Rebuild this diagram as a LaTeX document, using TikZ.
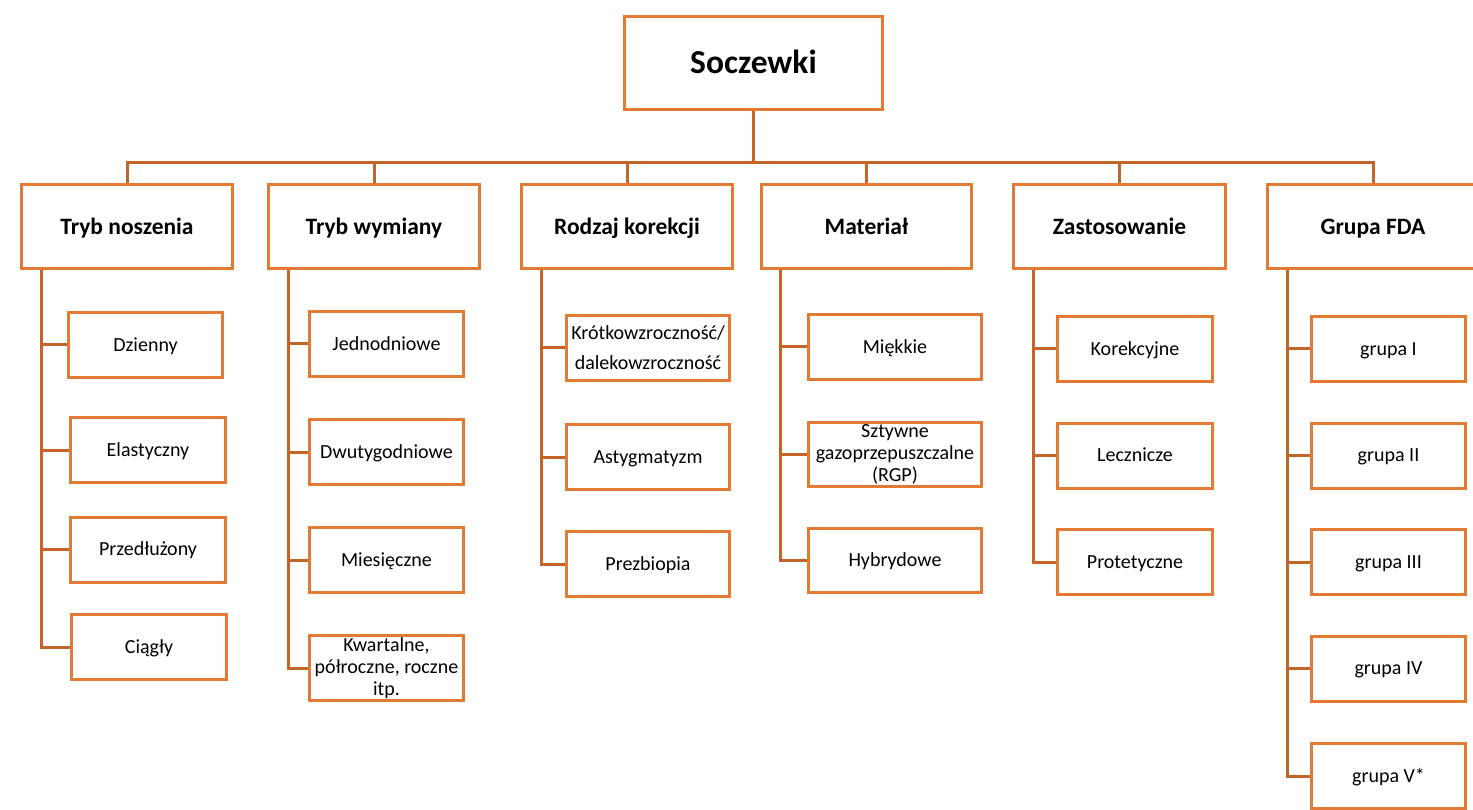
\documentclass[tikz,border=0pt]{standalone}
\usepackage{fontspec}
\setmainfont{Carlito}
\usetikzlibrary{calc}
\definecolor{boxor}{RGB}{226,122,52}
\definecolor{lineor}{RGB}{196,101,40}
\begin{document}
\begin{tikzpicture}[x=1pt,y=-1pt,
  base/.style={draw=boxor,line width=3pt,fill=white,inner sep=1pt,align=center,text=black},
  rootbox/.style={base,text height=30pt,text depth=8.4pt,minimum width=258pt,minimum height=93pt,font={\fontsize{33.5}{38}\selectfont\bfseries}},
  catbox/.style={base,text height=21pt,text depth=5.9pt,minimum width=211pt,minimum height=84pt,font={\fontsize{23.5}{28}\selectfont\bfseries}},
  leafbox/.style={base,minimum height=65pt,font={\fontsize{20}{22}\selectfont}},
  leafone/.style={leafbox,text height=18pt,text depth=5.1pt},
  conn/.style={draw=lineor,line width=3pt}]
\useasboundingbox (0,0) rectangle (1473,810);
\fill[white] (0,0) rectangle (1473,810);

\coordinate (bus) at (753.5,163);

% root
\node[rootbox] (root) at (753.5,63) {Soczewki};

% categories
\node[catbox] (c1) at (127,226.5) {Tryb noszenia};
\node[catbox] (c2) at (374,226.5) {Tryb wymiany};
\node[catbox] (c3) at (627,226.5) {Rodzaj korekcji};
\node[catbox,minimum width=210pt] (c4) at (866.5,226.5) {Materiał};
\node[catbox,minimum width=212pt] (c5) at (1119.5,226.5) {Zastosowanie};
\node[catbox] (c6) at (1373,226.5) {Grupa FDA};

% leaves column 1
\node[leafone,minimum width=154pt] (a1) at (145.5,345) {Dzienny};
\node[leafone,minimum width=155pt] (a2) at (148,450) {Elastyczny};
\node[leafone,minimum width=155pt] (a3) at (148,549.5) {Przedłużony};
\node[leafone,minimum width=155pt] (a4) at (149,647) {Ciągły};

% column 2
\node[leafone,minimum width=154pt] (b1) at (386.5,344) {Jednodniowe};
\node[leafone,minimum width=154pt] (b2) at (386.5,452) {Dwutygodniowe};
\node[leafone,minimum width=154pt] (b3) at (386.5,560) {Miesięczne};
\node[leafbox,minimum width=154pt] (b4) at (386.5,668) {Kwartalne,\\półroczne, roczne\\itp.};

% column 3
\node[leafbox,minimum width=163pt,font={\fontsize{20}{30}\selectfont}] (d1) at (648,348) {Krótkowzroczność/\\dalekowzroczność};
\node[leafone,minimum width=163pt] (d2) at (648,457) {Astygmatyzm};
\node[leafone,minimum width=163pt] (d3) at (648,564) {Prezbiopia};

% column 4
\node[leafone,minimum width=173pt,minimum height=64pt] (e1) at (895,347) {Miękkie};
\node[leafbox,minimum width=173pt,minimum height=64pt] (e2) at (895,454) {Sztywne\\gazoprzepuszczalne\\(RGP)};
\node[leafone,minimum width=173pt,minimum height=64pt] (e3) at (895,560) {Hybrydowe};

% column 5
\node[leafone,minimum width=155pt] (f1) at (1135,349) {Korekcyjne};
\node[leafone,minimum width=155pt] (f2) at (1135,455.5) {Lecznicze};
\node[leafone,minimum width=155pt] (f3) at (1135,562) {Protetyczne};

% column 6
\node[leafone,minimum width=154pt] (g1) at (1388.5,349) {grupa I};
\node[leafone,minimum width=154pt] (g2) at (1388.5,455.5) {grupa II};
\node[leafone,minimum width=154pt] (g3) at (1388.5,562) {grupa III};
\node[leafone,minimum width=154pt] (g4) at (1388.5,668.5) {grupa IV};
\node[leafone,minimum width=154pt] (g5) at (1388.5,776) {grupa V*};

% trunk tops
\coordinate (t1) at ($(c1.south west)+(21.5,0)$);
\coordinate (t2) at ($(c2.south west)+(21.5,0)$);
\coordinate (t3) at ($(c3.south west)+(21.5,0)$);
\coordinate (t4) at ($(c4.south west)+(20.5,0)$);
\coordinate (t5) at ($(c5.south west)+(21.5,0)$);
\coordinate (t6) at ($(c6.south west)+(21.5,0)$);

\path[conn] (root.south) -- (bus);
\foreach \c in {c1,c2,c3,c4,c5,c6} {\path[conn] (bus) -| (\c.north);}
\foreach \l in {a1,a2,a3,a4} {\path[conn] (t1) |- (\l.west);}
\foreach \l in {b1,b2,b3,b4} {\path[conn] (t2) |- (\l.west);}
\foreach \l in {d1,d2,d3} {\path[conn] (t3) |- (\l.west);}
\foreach \l in {e1,e2,e3} {\path[conn] (t4) |- (\l.west);}
\foreach \l in {f1,f2,f3} {\path[conn] (t5) |- (\l.west);}
\foreach \l in {g1,g2,g3,g4,g5} {\path[conn] (t6) |- (\l.west);}
\end{tikzpicture}
\end{document}
